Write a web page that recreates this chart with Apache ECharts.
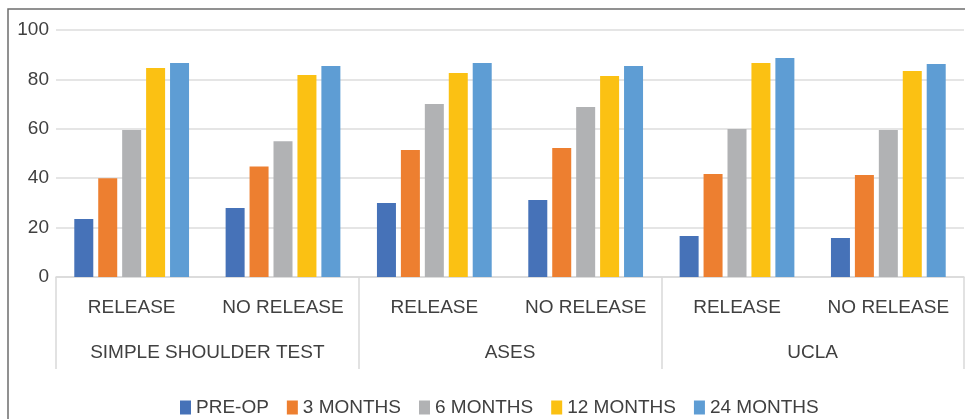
<!DOCTYPE html>
<html>
<head>
<meta charset="utf-8">
<script src="https://cdn.jsdelivr.net/npm/echarts@6/dist/echarts.min.js"></script>
<style>
	html, body { margin: 0; padding: 0; background: #fff; }
	#chart { width: 965px; height: 419px; }
</style>
</head>
<body>
<div id="chart"></div>
<script>
	// categories (inner level) and groups (outer level)
	var categories = ['RELEASE', 'NO RELEASE', 'RELEASE', 'NO RELEASE', 'RELEASE', 'NO RELEASE']
	var groups = ['SIMPLE SHOULDER TEST', 'ASES', 'UCLA']
	var seriesNames = ['PRE-OP', '3 MONTHS', '6 MONTHS', '12 MONTHS', '24 MONTHS']
	var yTicks = [0, 20, 40, 60, 80, 100]

	// values
	var preOp = [23.5, 27.9, 30.0, 31.2, 16.6, 15.8]
	var months3 = [40.0, 44.7, 51.4, 52.2, 41.7, 41.3]
	var months6 = [59.5, 55.0, 70.0, 68.8, 59.9, 59.5]
	var months12 = [84.6, 81.8, 82.6, 81.4, 86.6, 83.4]
	var months24 = [86.6, 85.4, 86.6, 85.4, 88.7, 86.2]

	var colors = ['#4672B8', '#ED7F30', '#B1B2B4', '#FBC113', '#5E9DD4']
	var textColor = '#404040'
	var font = 'Liberation Sans, Arial, sans-serif'

	var myChart = echarts.init(document.getElementById('chart'))
	var allData = [preOp, months3, months6, months12, months24]

	var option = {
		animation: false,
		color: colors,
		textStyle: { fontFamily: font },
		grid: {
			left: 56,
			right: 1,
			top: 30,
			bottom: 142,
			containLabel: false
		},
		legend: {
			left: 175,
			top: 393,
			itemWidth: 11,
			itemHeight: 14,
			itemGap: 18,
			icon: 'rect',
			textStyle: { color: textColor, fontSize: 19, fontFamily: font },
			data: seriesNames
		},
		xAxis: [{
			type: 'category',
			data: categories,
			axisLine: { show: true, lineStyle: { color: '#d9d9d9', width: 1.5 } },
			axisTick: { show: false },
			axisLabel: { interval: 0, margin: 21, color: textColor, fontSize: 19, fontFamily: font }
		}, {
			type: 'category',
			data: groups,
			position: 'bottom',
			axisLine: { show: false },
			axisTick: { show: true, interval: 0, length: 92, lineStyle: { color: '#d9d9d9', width: 1.5 } },
			axisLabel: { interval: 0, margin: 66, color: textColor, fontSize: 19, fontFamily: font }
		}],
		yAxis: {
			type: 'value',
			min: yTicks[0],
			max: yTicks[yTicks.length - 1],
			interval: 20,
			axisLine: { show: false },
			axisTick: { show: false },
			splitLine: { lineStyle: { color: '#dcdcdc', width: 1.5 } },
			axisLabel: { margin: 7, color: textColor, fontSize: 19, fontFamily: font }
		},
		series: seriesNames.map(function (name, i) {
			return {
				name: name,
				type: 'bar',
				xAxisIndex: 0,
				data: allData[i],
				barWidth: 19,
				barGap: '26%'
			}
		}),
		graphic: [{
			type: 'rect',
			shape: { x: 8, y: 9, width: 970, height: 430 },
			style: { fill: 'none', stroke: '#6e6e6e', lineWidth: 1.5 },
			silent: true
		}]
	}
	myChart.setOption(option)
</script>
</body>
</html>
